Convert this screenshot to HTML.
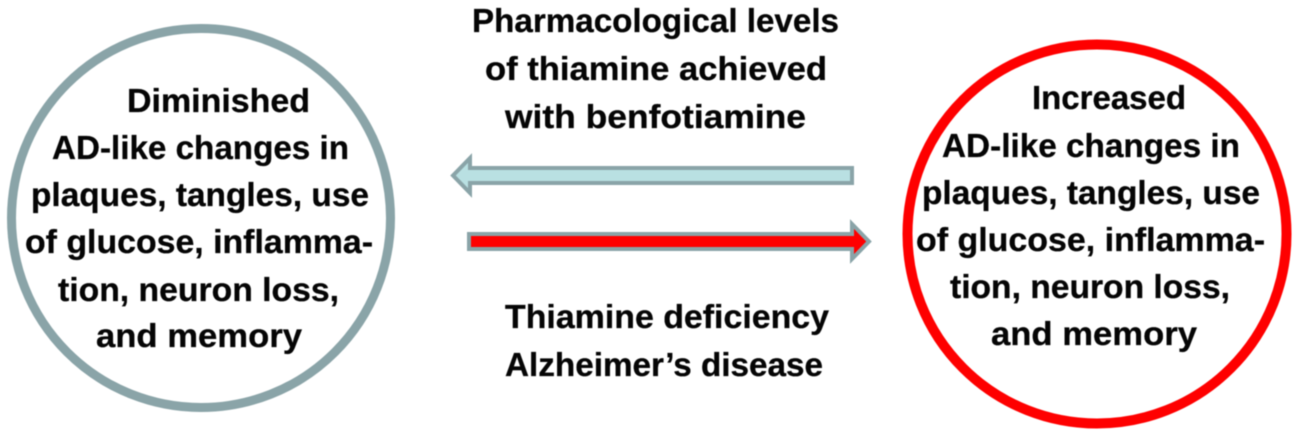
<!DOCTYPE html>
<html lang="en">
<head>
<meta charset="utf-8">
<title>Thiamine and AD-like changes</title>
<style>
html,body{margin:0;padding:0;background:#fff;width:1299px;height:436px;overflow:hidden}
svg{display:block;filter:blur(0.5px)}
text{font-family:"Liberation Sans",Arial,sans-serif;font-weight:700;font-size:33px;fill:#050505;stroke:#050505;stroke-width:0.3px}
</style>
</head>
<body>
<svg width="1299" height="436" viewBox="0 0 1299 436" xmlns="http://www.w3.org/2000/svg">
<circle cx="201" cy="218" r="189.5" fill="#fff" stroke="#8aa4a8" stroke-width="9"/>
<circle cx="1097" cy="234" r="189.500" fill="#fff" stroke="#fe0000" stroke-width="10"/>

<path d="M852 168H470V158L453 175.500L470 193V183H852Z" fill="#b9e0e2" stroke="#8aa4a8" stroke-width="4" stroke-miterlimit="6"/>
<path d="M469 234H852V224L869 241.500L852 259V249H469Z" fill="#fe0000" stroke="#8aa4a8" stroke-width="4" stroke-miterlimit="6"/>

<text x="127" y="112" textLength="183" lengthAdjust="spacingAndGlyphs">Diminished</text>
<text x="52" y="159" textLength="297" lengthAdjust="spacingAndGlyphs">AD-like changes in</text>
<text x="31" y="206" textLength="338" lengthAdjust="spacingAndGlyphs">plaques, tangles, use</text>
<text x="25" y="253" textLength="348" lengthAdjust="spacingAndGlyphs">of glucose, inflamma-</text>
<text x="58" y="301" textLength="281" lengthAdjust="spacingAndGlyphs">tion, neuron loss,</text>
<text x="96" y="347" textLength="206" lengthAdjust="spacingAndGlyphs">and memory</text>

<text x="1032" y="109" textLength="154" lengthAdjust="spacingAndGlyphs">Increased</text>
<text x="942" y="157" textLength="298" lengthAdjust="spacingAndGlyphs">AD-like changes in</text>
<text x="922" y="204" textLength="338" lengthAdjust="spacingAndGlyphs">plaques, tangles, use</text>
<text x="916" y="251" textLength="349" lengthAdjust="spacingAndGlyphs">of glucose, inflamma-</text>
<text x="950" y="298" textLength="280" lengthAdjust="spacingAndGlyphs">tion, neuron loss,</text>
<text x="991" y="345" textLength="206" lengthAdjust="spacingAndGlyphs">and memory</text>

<text x="472" y="32" textLength="367" lengthAdjust="spacingAndGlyphs">Pharmacological levels</text>
<text x="485" y="80" textLength="342" lengthAdjust="spacingAndGlyphs">of thiamine achieved</text>
<text x="505" y="128" textLength="301" lengthAdjust="spacingAndGlyphs">with benfotiamine</text>

<text x="505" y="328" textLength="324" lengthAdjust="spacingAndGlyphs">Thiamine deficiency</text>
<text x="505" y="376" textLength="318" lengthAdjust="spacingAndGlyphs">Alzheimer’s disease</text>
</svg>
</body>
</html>
